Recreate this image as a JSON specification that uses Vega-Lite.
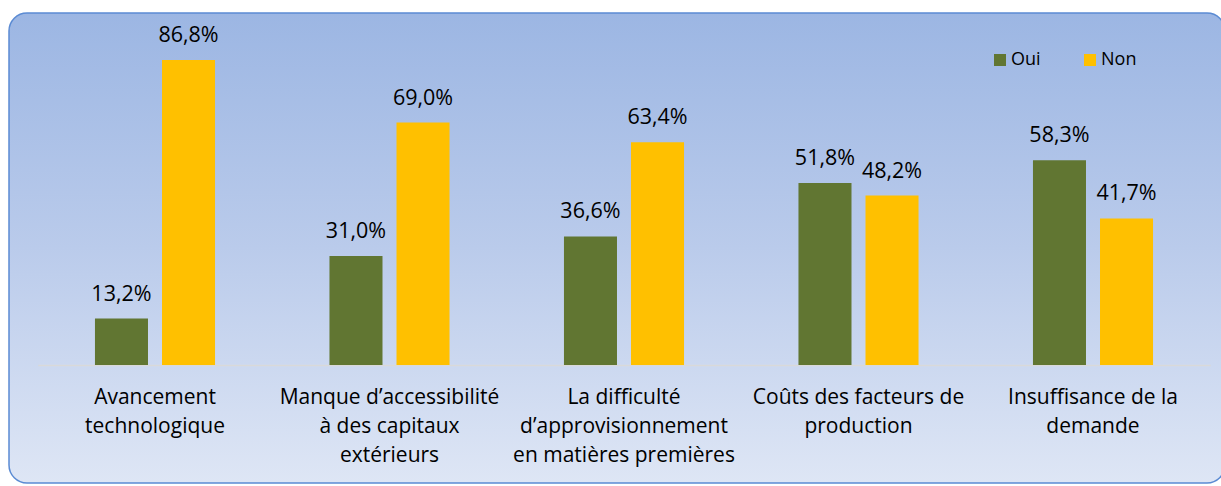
{
  "$schema": "https://vega.github.io/schema/vega-lite/v6.json",
  "width": 1216,
  "height": 470,
  "autosize": {"type": "none"},
  "padding": {"left": 9, "top": 13, "right": 0, "bottom": 3},
  "background": "#FFFFFF",
  "config": {
    "locale": {"number": {"decimal": ",", "thousands": " ", "grouping": [3], "currency": ["", " €"]}},
    "font": "Open Sans",
    "view": {
      "cornerRadius": 18,
      "stroke": "#5B8BD3",
      "strokeWidth": 1.5,
      "fill": {"gradient": "linear", "x1": 0, "y1": 0, "x2": 0, "y2": 1,
        "stops": [{"offset": 0, "color": "#9CB6E3"}, {"offset": 0.5, "color": "#BACBEB"}, {"offset": 1, "color": "#DEE6F5"}]}
    }
  },
  "data": {
    "values": [
      {"critere": "Avancement\ntechnologique", "reponse": "Oui", "part": 0.132},
      {"critere": "Avancement\ntechnologique", "reponse": "Non", "part": 0.868},
      {"critere": "Manque d’accessibilité\nà des capitaux\nextérieurs", "reponse": "Oui", "part": 0.31},
      {"critere": "Manque d’accessibilité\nà des capitaux\nextérieurs", "reponse": "Non", "part": 0.69},
      {"critere": "La difficulté\nd’approvisionnement\nen matières premières", "reponse": "Oui", "part": 0.366},
      {"critere": "La difficulté\nd’approvisionnement\nen matières premières", "reponse": "Non", "part": 0.634},
      {"critere": "Coûts des facteurs de\nproduction", "reponse": "Oui", "part": 0.518},
      {"critere": "Coûts des facteurs de\nproduction", "reponse": "Non", "part": 0.482},
      {"critere": "Insuffisance de la\ndemande", "reponse": "Oui", "part": 0.583},
      {"critere": "Insuffisance de la\ndemande", "reponse": "Non", "part": 0.417}
    ]
  },
  "encoding": {
    "x": {
      "field": "critere", "type": "nominal", "sort": null, "title": null,
      "scale": {"range": [28.75, 1201.25], "paddingInner": 0.488, "paddingOuter": 0.244},
      "axis": {
        "orient": "bottom", "offset": -118, "ticks": false, "labelAngle": 0,
        "domainColor": "#D9D9D9", "domainWidth": 1.5,
        "labelFont": "Open Sans", "labelFontSize": 21, "labelColor": "#000000",
        "labelLineHeight": 29, "labelPadding": 21, "labelLimit": 400,
        "labelExpr": "split(datum.value, '\\n')"
      }
    },
    "xOffset": {
      "field": "reponse", "type": "nominal", "sort": ["Oui", "Non"],
      "scale": {"paddingInner": 0.209, "paddingOuter": 0}
    },
    "y": {
      "field": "part", "type": "quantitative", "title": null,
      "scale": {"domain": [-0.3358, 1.0017], "nice": false, "zero": false},
      "axis": null
    }
  },
  "layer": [
    {
      "mark": {"type": "bar"},
      "encoding": {
        "y2": {"datum": 0},
        "color": {
          "field": "reponse", "type": "nominal", "sort": ["Oui", "Non"], "title": null,
          "scale": {"domain": ["Oui", "Non"], "range": ["#617632", "#FFC000"]},
          "legend": {
            "orient": "none", "direction": "horizontal", "legendX": 982, "legendY": 38,
            "symbolType": "square", "symbolSize": 144, "symbolStrokeWidth": 0,
            "labelFont": "Open Sans", "labelFontSize": 18, "labelColor": "#000000",
            "labelOffset": 2, "columnPadding": 40, "padding": 0
          }
        }
      }
    },
    {
      "mark": {"type": "text", "baseline": "alphabetic", "dy": -18, "fontSize": 21.5, "font": "Open Sans", "color": "#000000"},
      "encoding": {
        "text": {"field": "part", "type": "quantitative", "format": ".1%"}
      }
    }
  ]
}
